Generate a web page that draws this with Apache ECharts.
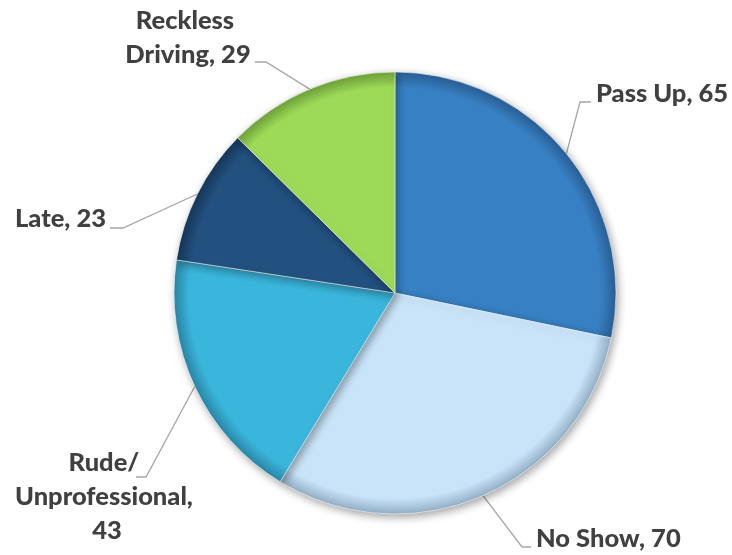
<!DOCTYPE html>
<html>
<head>
<meta charset="utf-8">
<script src="https://cdn.jsdelivr.net/npm/echarts@6/dist/echarts.min.js"></script>
<style>
  html, body { margin: 0; padding: 0; background: #ffffff; }
  #chart { width: 732px; height: 555px; }
</style>
</head>
<body>
<div id="chart"></div>
<script>
// Complaint categories, clockwise from 12 o'clock
const categories = ['Pass Up', 'No Show', 'Rude/ Unprofessional', 'Late', 'Reckless Driving'];
const counts = [65, 70, 43, 23, 29];
const sliceColors = ['#3780c3', '#c9e3f8', '#3ab6dd', '#22507f', '#9dda58'];
const rimColors = ['#2a5f95', '#93afc6', '#2a87a6', '#163759', '#6fa23a'];

// Placement of each data label: anchor, alignment, wrap width and the elbow of its leader line
const labelPlacement = [
  { x: 596, y: 94, align: 'left', width: 0, elbow: [[580, 102], [591, 102]] },
  { x: 536, y: 539, align: 'left', width: 0, elbow: [[522, 547], [531, 547]] },
  { x: 107, y: 497, align: 'center', width: 200, elbow: [[146, 477], [136, 477]] },
  { x: 15, y: 219, align: 'left', width: 0, elbow: [[123, 228], [110, 228]] },
  { x: 188, y: 38, align: 'center', width: 140, elbow: [[266, 62], [255, 62]] }
];

const cx = 395, cy = 293, radius = 221;

const chart = echarts.init(document.getElementById('chart'));

const data = categories.map((name, i) => {
  const place = labelPlacement[i];
  const label = place.width
    ? { width: place.width, overflow: 'break', align: 'center' }
    : { overflow: 'none' };
  return {
    name: name,
    value: counts[i],
    label: label,
    itemStyle: {
      color: {
        type: 'radial', x: cx, y: cy, r: radius, global: true,
        colorStops: [
          { offset: 0, color: sliceColors[i] },
          { offset: 0.93, color: sliceColors[i] },
          { offset: 1, color: rimColors[i] }
        ]
      }
    }
  };
});

chart.setOption({
  backgroundColor: '#ffffff',
  animation: false,
  series: [{
    type: 'pie',
    center: [cx, cy],
    radius: radius,
    startAngle: 90,
    clockwise: true,
    data: data,
    itemStyle: {
      borderColor: 'rgba(255,255,255,0.55)',
      borderWidth: 1,
      shadowBlur: 8,
      shadowOffsetX: 2,
      shadowOffsetY: 3,
      shadowColor: 'rgba(0,0,0,0.35)'
    },
    label: {
      show: true,
      formatter: p => p.name + ', ' + p.value,
      fontFamily: 'Lato',
      fontWeight: 900,
      fontSize: 25.5,
      lineHeight: 34,
      color: '#404040'
    },
    labelLine: {
      show: true,
      lineStyle: { color: '#a6a6a6', width: 1.3 }
    },
    labelLayout: function (params) {
      const p = labelPlacement[params.dataIndex];
      const start = params.labelLinePoints ? params.labelLinePoints[0] : null;
      const out = {
        x: p.x,
        y: p.y,
        align: p.align,
        verticalAlign: 'middle',
        hideOverlap: false,
        moveOverlap: false
      };
      if (start) out.labelLinePoints = [start, p.elbow[0], p.elbow[1]];
      return out;
    }
  }]
});
</script>
</body>
</html>
